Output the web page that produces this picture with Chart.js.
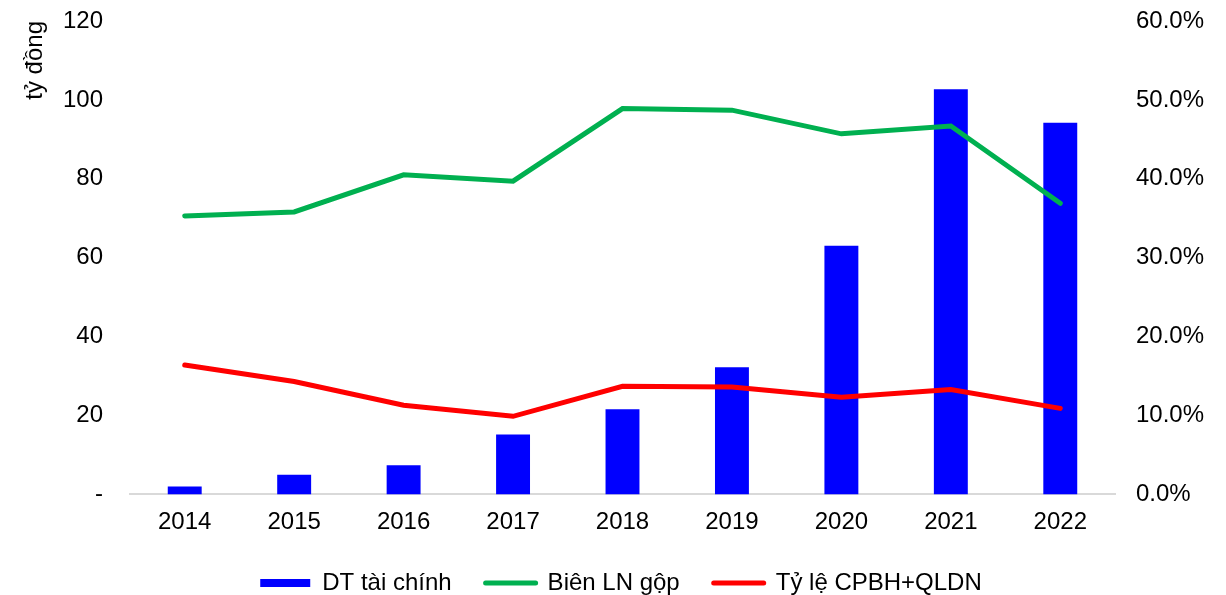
<!DOCTYPE html>
<html>
<head>
<meta charset="utf-8">
<script src="https://cdn.jsdelivr.net/npm/chart.js@4"></script>
<style>
  html, body { margin: 0; padding: 0; background: #fff; }
  #wrap { width: 1226px; height: 595px; position: relative; }
</style>
</head>
<body>
<div id="wrap"><canvas id="chart"></canvas></div>
<script>
// ── Data ──────────────────────────────────────────────
const YEARS = ['2014', '2015', '2016', '2017', '2018', '2019', '2020', '2021', '2022'];
const DT_TAI_CHINH = [2.0, 5.0, 7.4, 15.2, 21.6, 32.2, 63.0, 102.7, 94.2];      // tỷ đồng
const BIEN_LN_GOP = [35.3, 35.8, 40.5, 39.7, 48.9, 48.7, 45.7, 46.7, 36.9];     // %
const TY_LE_CPBH = [16.4, 14.3, 11.3, 9.9, 13.7, 13.6, 12.3, 13.3, 10.9];       // %
const LEFT_TICKS = [0, 20, 40, 60, 80, 100, 120];
const RIGHT_TICKS = [0, 10, 20, 30, 40, 50, 60];

const FONT = { family: '"Liberation Sans", Arial, sans-serif', size: 24 };
const TEXT = '#000';

// y axes: fixed widths, no extra room above/below for the end labels
const fitY = width => axis => {
  axis.width = width;
  axis.paddingTop = 0;
  axis.paddingBottom = 0;
};

const ctx = document.getElementById('chart').getContext('2d');

new Chart(ctx, {
  data: {
    labels: YEARS,
    datasets: [
      {
        type: 'line',
        label: 'Biên LN gộp',
        data: BIEN_LN_GOP,
        yAxisID: 'yRight',
        borderColor: '#00b050',
        borderWidth: 5,
        borderCapStyle: 'round',
        pointRadius: 0,
        pointStyle: 'line',
        pointBorderColor: '#00b050',
        pointBorderWidth: 5,
        tension: 0,
        order: 1
      },
      {
        type: 'line',
        label: 'Tỷ lệ CPBH+QLDN',
        data: TY_LE_CPBH,
        yAxisID: 'yRight',
        borderColor: '#ff0000',
        borderWidth: 5,
        borderCapStyle: 'round',
        pointRadius: 0,
        pointStyle: 'line',
        pointBorderColor: '#ff0000',
        pointBorderWidth: 5,
        tension: 0,
        order: 2
      },
      {
        type: 'bar',
        label: 'DT tài chính',
        data: DT_TAI_CHINH,
        yAxisID: 'yLeft',
        backgroundColor: '#0000ff',
        borderWidth: 0,
        pointStyle: 'rect',
        categoryPercentage: 1,
        barPercentage: 0.31,
        order: 3
      }
    ]
  },
  options: {
    responsive: true,
    maintainAspectRatio: false,
    animation: false,
    layout: { padding: { top: 21, right: 0, bottom: -10, left: 16 } },
    plugins: {
      tooltip: { enabled: false },
      legend: {
        position: 'bottom',
        labels: {
          color: TEXT,
          font: FONT,
          usePointStyle: true,
          pointStyleWidth: 50,
          boxHeight: 8,
          padding: 34,
          // bar first, then the two lines
          sort: (a, b) => {
            const rank = i => (i === 2 ? 0 : i + 1);
            return rank(a.datasetIndex) - rank(b.datasetIndex);
          },
          generateLabels: chart => {
            const items = Chart.defaults.plugins.legend.labels.generateLabels(chart);
            items.forEach(it => {
              if (it.pointStyle === 'line') {
                it.lineCap = 'round';
                it.lineWidth = 5;
              } else {
                it.lineWidth = 0;
              }
            });
            return items;
          }
        }
      }
    },
    scales: {
      x: {
        grid: { display: false, drawTicks: false },
        border: { color: '#d9d9d9', width: 2 },
        ticks: { color: TEXT, font: FONT, padding: 14 },
        afterFit: axis => { axis.height = 42.6; }
      },
      yLeft: {
        position: 'left',
        min: 0,
        max: 120,
        afterBuildTicks: axis => { axis.ticks = LEFT_TICKS.map(v => ({ value: v })); },
        afterFit: fitY(114),
        grid: { display: false, drawTicks: false },
        border: { display: false },
        title: {
          display: true,
          text: 'tỷ đồng',
          align: 'end',
          color: TEXT,
          font: FONT,
          padding: { top: 5, bottom: 0 }
        },
        ticks: {
          color: TEXT,
          font: FONT,
          padding: 27,
          callback: v => (v === 0 ? '-' : v)
        }
      },
      yRight: {
        position: 'right',
        min: 0,
        max: 60,
        afterBuildTicks: axis => { axis.ticks = RIGHT_TICKS.map(v => ({ value: v })); },
        afterFit: fitY(111),
        grid: { display: false, drawTicks: false },
        border: { display: false },
        ticks: {
          color: TEXT,
          font: FONT,
          padding: 21,
          callback: v => v.toFixed(1) + '%'
        }
      }
    }
  }
});
</script>
</body>
</html>
